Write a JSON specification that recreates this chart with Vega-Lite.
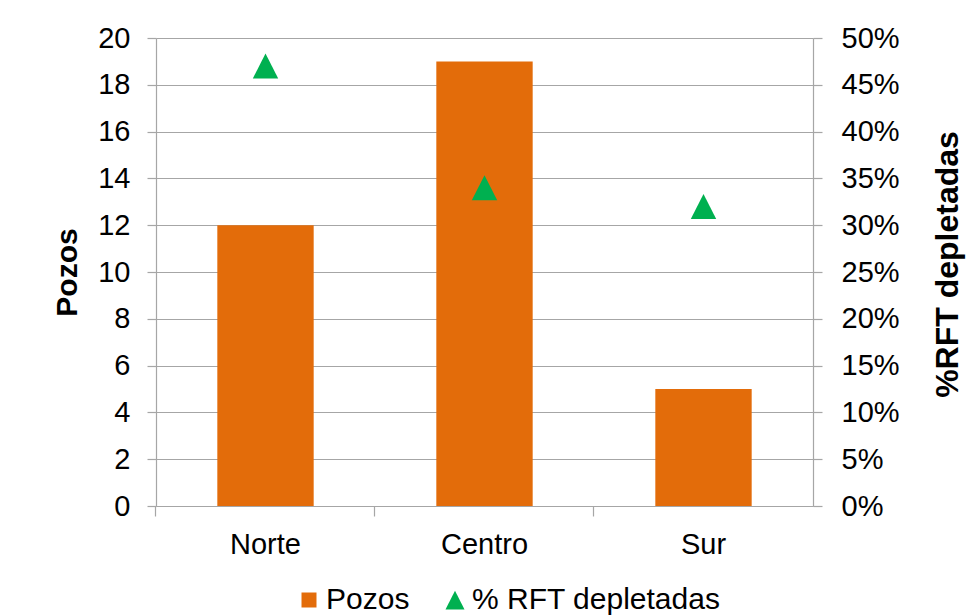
{
  "$schema": "https://vega.github.io/schema/vega-lite/v6.json",
  "width": 657,
  "height": 468,
  "autosize": "none",
  "padding": {"left": 156, "top": 38, "right": 159, "bottom": 109},
  "background": "white",
  "config": {
    "view": {"stroke": null},
    "font": "Liberation Sans",
    "axis": {"labelFont": "Liberation Sans", "titleFont": "Liberation Sans", "labelColor": "#000000", "titleColor": "#000000", "domainColor": "#a6a6a6", "tickColor": "#a6a6a6", "gridColor": "#a6a6a6", "gridOpacity": 1, "domainWidth": 1.2, "tickWidth": 1.2, "gridWidth": 1.2}
  },
  "data": {
    "values": [
      {"region": "Norte", "pozos": 12, "rft": 0.47},
      {"region": "Centro", "pozos": 19, "rft": 0.34},
      {"region": "Sur", "pozos": 5, "rft": 0.32}
    ]
  },
  "encoding": {
    "x": {
      "field": "region",
      "type": "nominal",
      "sort": null,
      "scale": {"paddingInner": 0.56, "paddingOuter": 0.28},
      "axis": {"title": null, "labelAngle": 0, "labelFontSize": 29, "bandPosition": -0.6364, "tickSize": 10, "labelPadding": 14, "grid": false}
    }
  },
  "layer": [
    {
      "mark": {"type": "bar", "color": "#E36C0A"},
      "encoding": {
        "y": {
          "field": "pozos",
          "type": "quantitative",
          "scale": {"domain": [0, 20], "nice": false},
          "axis": {"title": "Pozos", "values": [0, 2, 4, 6, 8, 10, 12, 14, 16, 18, 20], "labelFontSize": 29, "tickSize": 9, "labelPadding": 17, "grid": true, "titleFontSize": 30, "titleFontWeight": "bold", "titleAngle": -90, "titleX": -89, "titleY": 234, "titleAlign": "center", "titleBaseline": "middle"}
        }
      }
    },
    {
      "mark": {"type": "point", "filled": true, "opacity": 1, "size": 400, "strokeWidth": 0},
      "encoding": {
        "y": {
          "field": "rft",
          "type": "quantitative",
          "scale": {"domain": [0, 0.5], "nice": false},
          "axis": {"orient": "right", "title": "%RFT depletadas", "values": [0, 0.05, 0.1, 0.15, 0.2, 0.25, 0.3, 0.35, 0.4, 0.45, 0.5], "format": ".0%", "labelFontSize": 29, "tickSize": 9, "labelPadding": 19, "grid": false, "titleFontSize": 32, "titleFontWeight": "bold", "titleAngle": -90, "titleX": 134, "titleY": 226, "titleAlign": "center", "titleBaseline": "middle"}
        },
        "color": {
          "datum": "% RFT depletadas",
          "scale": {"domain": ["Pozos", "% RFT depletadas"], "range": ["#E36C0A", "#00B050"]},
          "legend": {"title": null, "orient": "none", "direction": "horizontal", "legendX": 138, "legendY": 547, "symbolSize": 225, "labelFontSize": 30, "labelFont": "Liberation Sans", "labelColor": "#000000", "labelLimit": 500, "symbolStrokeWidth": 0, "symbolOpacity": 1, "labelOffset": 2, "columnPadding": 30}
        },
        "shape": {
          "datum": "% RFT depletadas",
          "scale": {"domain": ["Pozos", "% RFT depletadas"], "range": ["square", "M0,-1.25L1.27,1.25L-1.27,1.25Z"]},
          "legend": {"title": null, "orient": "none", "direction": "horizontal", "legendX": 138, "legendY": 547, "symbolSize": 225, "labelFontSize": 30, "labelFont": "Liberation Sans", "labelColor": "#000000", "labelLimit": 500, "symbolStrokeWidth": 0, "symbolOpacity": 1, "labelOffset": 2, "columnPadding": 30}
        }
      }
    }
  ],
  "resolve": {"scale": {"y": "independent"}}
}
